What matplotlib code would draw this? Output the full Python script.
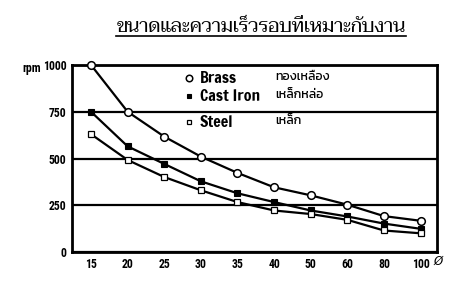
import matplotlib
matplotlib.use("Agg")
import matplotlib.pyplot as plt
from matplotlib.lines import Line2D

sizes = ["15", "20", "25", "30", "35", "40", "50", "60", "80", "100"]
brass = [1000, 750, 617, 510, 423, 346, 303, 253, 192, 167]
cast_iron = [750, 565, 471, 378, 314, 267, 222, 190, 152, 124]
steel = [630, 492, 401, 330, 267, 222, 203, 172, 115, 100]
yticks = [0, 250, 500, 750, 1000]
stub_ticks = [750, 1000]
title = "ขนาดและความเร็วรอบที่เหมาะกับงาน"
series_en = ["Brass", "Cast Iron", "Steel"]
series_th = ["ทองเหลือง", "เหล็กหล่อ", "เหล็ก"]

W, H = 457, 289
LAT = ["Francois One", "DejaVu Sans"]
NUM = ["Roboto Condensed", "DejaVu Sans"]
THAI_SANS = ["Kanit", "DejaVu Sans"]
THAI_SERIF = ["Taviraj", "DejaVu Serif"]

fig = plt.figure(figsize=(W / 100, H / 100), dpi=100)
ax = fig.add_axes([72 / W, 1 - 252 / H, (437 - 72) / W, (252 - 65) / H])

def fx(px):
    return px / W

def fy(py):
    return 1 - py / H

x = list(range(len(sizes)))
styles = [
    dict(marker="o", ms=5.5, mfc="white", mec="black", mew=1.1),
    dict(marker="s", ms=4.2, mfc="black", mec="black", mew=0.8),
    dict(marker="s", ms=4.2, mfc="white", mec="black", mew=0.9),
]
for vals, st in zip([brass, cast_iron, steel], styles):
    ax.plot(x, vals, color="black", lw=1.6, zorder=3, clip_on=False, **st)

ax.set_xlim(-0.52, 9.45)
ax.set_ylim(0, 1000)
ax.set_xticks(x)
ax.set_xticklabels(sizes, family=NUM, fontsize=8.5, weight="bold")
ax.set_yticks(yticks)
ax.set_yticklabels([str(v) for v in yticks], family=NUM, fontsize=8.5, weight="bold")
ax.set_yticks(stub_ticks, minor=True)
ax.tick_params(axis="both", which="major", length=0, pad=4)
ax.tick_params(axis="y", which="minor", length=5, width=1.6, color="black", direction="out")
ax.tick_params(axis="x", which="major", pad=4)
ax.grid(axis="y", color="black", lw=1.6, zorder=1)
for sp in ax.spines.values():
    sp.set_linewidth(2.0)
    sp.set_color("black")

fig.text(fx(32), fy(68), "rpm", family=NUM, fontsize=8.5, weight="bold", ha="center", va="center")
fig.text(fx(438), fy(261), "Ø", family=["DejaVu Sans"], fontsize=8.5, style="italic",
         ha="center", va="center")

# legend drawn as text block inside the plot
rows_y = [78, 96, 122]
for i, (en, th, st) in enumerate(zip(series_en, series_th, styles)):
    yy = fy(rows_y[i])
    mk = dict(st)
    mk["ms"] = mk["ms"] * 0.85
    fig.add_artist(Line2D([fx(189)], [yy], transform=fig.transFigure, color="black", lw=0, **mk))
    fig.text(fx(200), yy, en, family=LAT, fontsize=11.5, ha="left", va="center", color="black")
    fig.text(fx(275), yy + 0.004, th, family=THAI_SANS, fontsize=9, weight="normal",
             ha="left", va="center", color="black")

t = fig.text(fx(261), fy(27), title, family=THAI_SERIF, fontsize=13.8, ha="center", va="center",
             color="black")
fig.canvas.draw()
bb = t.get_window_extent(fig.canvas.get_renderer())
fig.add_artist(Line2D([bb.x0 / W, bb.x1 / W], [fy(36), fy(36)],
                      transform=fig.transFigure, color="black", lw=1.2))

fig.savefig("out.png", dpi=100)
